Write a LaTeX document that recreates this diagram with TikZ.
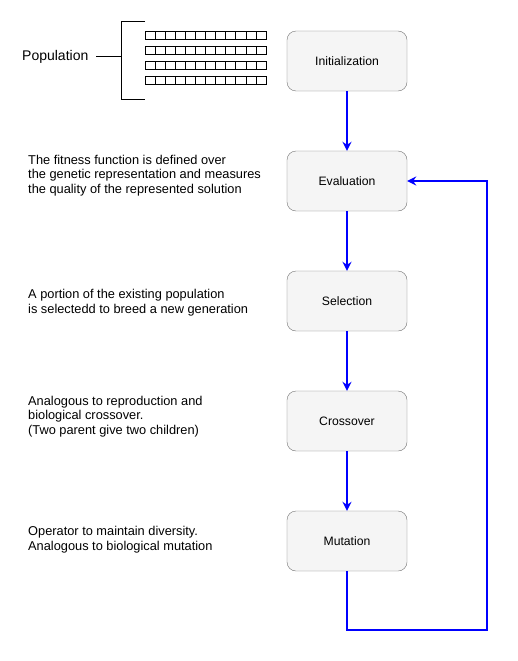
\documentclass[tikz,border=0pt]{standalone}
\usepackage{fontspec}
\setmainfont{Liberation Sans}
\usetikzlibrary{arrows.meta}
\begin{document}
\begin{tikzpicture}[x=1pt,y=-1pt,
  stepbox/.style={draw=black!55, fill=black!4, rounded corners=9pt, minimum width=120pt, minimum height=60pt, font=\fontsize{12.2}{14}\selectfont, inner sep=0pt},
  flow/.style={draw=blue, line width=1.5pt, -{Stealth[length=9pt,width=9pt,inset=3pt]}},
  desc/.style={anchor=west, align=left, font=\fontsize{12.8}{14.7}\selectfont, inner sep=0pt},
  cell/.style={draw=black, line width=0.6pt}
]
\useasboundingbox (0,0) rectangle (517,661);
\node[stepbox] (init) at (347,61) {Initialization};
\node[stepbox] (eval) at (347,181) {Evaluation};
\node[stepbox] (sel) at (347,301) {Selection};
\node[stepbox] (cross) at (347,421) {Crossover};
\node[stepbox] (mut) at (347,541) {Mutation};
\draw[flow] (init) -- (eval);
\draw[flow] (eval) -- (sel);
\draw[flow] (sel) -- (cross);
\draw[flow] (cross) -- (mut);
\coordinate (c1) at (347,630);
\coordinate (c2) at (487,630);
\coordinate (c3) at (487,181);
\draw[flow] (mut.south) -- (c1) -- (c2) -- (c3) -- (eval.east);
% population
\node[anchor=west, inner sep=0pt, font=\fontsize{14}{16}\selectfont] (pop) at (22,57) {Population};
\coordinate (bt) at (121,21);
\coordinate (bb) at (121,99);
\coordinate (bm) at (121,56);
\coordinate (btr) at (145,21);
\coordinate (bbr) at (145,99);
\coordinate (pl) at (96,56);
\draw[line width=0.8pt] (btr) -- (bt) -- (bb) -- (bbr);
\draw[line width=0.8pt] (pl) -- (bm);
\foreach \y in {31,46,61,76}{
  \foreach \i in {0,...,11}{
    \draw[cell] (145+\i*10.08,\y) rectangle ++(10.08,8.5);
  }
}
\node[desc] (t1) at (28,175.5) {The fitness function is defined over\\the genetic representation and measures\\the quality of the represented solution};
\node[desc] (t2) at (28,303) {A portion of the existing population\\is selectedd to breed a new generation};
\node[desc] (t3) at (28,416.5) {Analogous to reproduction and\\biological crossover.\\(Two parent give two children)};
\node[desc] (t4) at (28,540) {Operator to maintain diversity.\\Analogous to biological mutation};
\end{tikzpicture}
\end{document}
